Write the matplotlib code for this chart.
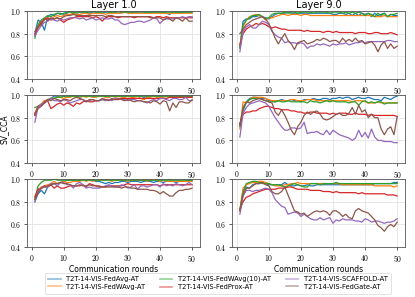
import numpy as np
import matplotlib
matplotlib.use('Agg')
import matplotlib.pyplot as plt
from matplotlib.ticker import FuncFormatter

plt.rcParams['mathtext.fontset'] = 'cm'
plt.rcParams['font.family'] = 'DejaVu Sans'

rounds = list(range(1, 51))
methods = ['T2T-14-VIS-FedAvg-AT', 'T2T-14-VIS-FedWAvg-AT', 'T2T-14-VIS-FedWAvg(10)-AT',
           'T2T-14-VIS-FedProx-AT', 'T2T-14-VIS-SCAFFOLD-AT', 'T2T-14-VIS-FedGate-AT']
colors = ['#1f77b4', '#ff7f0e', '#2ca02c', '#d62728', '#9467bd', '#8c564b']
layers = ['Layer 1.0', 'Layer 9.0']

# ---- row 1, layer 1.0 ----
r1_l1_fedavg = [0.80, 0.92, 0.90, 0.83, 0.95, 0.97, 0.96, 0.98, 0.98, 0.97, 0.98, 1.00, 0.99, 0.98, 0.99, 0.99, 0.99, 0.98, 0.99, 0.99,
                0.99, 0.98, 0.99, 0.99, 0.99, 0.99, 0.98, 0.99, 0.99, 0.99, 0.98, 0.99, 0.99, 0.99, 0.99, 0.98, 0.99, 0.99, 0.99, 0.99,
                0.99, 0.98, 0.97, 0.99, 0.99, 0.98, 0.99, 0.99, 0.99, 0.99]
r1_l1_fedwavg = [0.78, 0.85, 0.90, 0.92, 0.94, 0.93, 0.95, 0.96, 0.95, 0.96, 0.97, 0.97, 0.98, 0.97, 0.97, 0.98, 0.98, 0.97, 0.98, 0.98,
                 0.98, 0.98, 0.97, 0.98, 0.98, 0.98, 0.98, 0.98, 0.99, 0.98, 0.98, 0.98, 0.98, 0.98, 0.98, 0.98, 0.98, 0.98, 0.98, 0.98,
                 0.98, 0.98, 0.98, 0.98, 0.98, 0.98, 0.98, 0.98, 0.98, 0.98]
r1_l1_fedwavg10 = [0.76, 0.88, 0.92, 0.94, 0.96, 0.95, 0.97, 0.98, 0.97, 0.98, 0.99, 0.99, 0.98, 0.99, 0.99, 0.99, 0.99, 0.99, 1.00, 0.99,
                   0.99, 0.99, 1.00, 0.99, 0.99, 0.99, 1.00, 0.99, 0.99, 0.99, 0.99, 0.99, 0.99, 1.00, 0.99, 0.99, 0.99, 0.99, 0.99, 0.99,
                   0.99, 0.99, 0.99, 0.99, 0.99, 0.99, 0.99, 0.99, 0.99, 0.99]
r1_l1_fedprox = [0.79, 0.86, 0.90, 0.93, 0.94, 0.92, 0.93, 0.94, 0.92, 0.90, 0.92, 0.93, 0.94, 0.95, 0.95, 0.95, 0.95, 0.95, 0.94, 0.95,
                 0.94, 0.91, 0.94, 0.95, 0.95, 0.95, 0.94, 0.95, 0.95, 0.95, 0.95, 0.94, 0.95, 0.95, 0.95, 0.95, 0.95, 0.94, 0.95, 0.95,
                 0.94, 0.95, 0.94, 0.94, 0.94, 0.94, 0.94, 0.94, 0.94, 0.94]
r1_l1_scaffold = [0.78, 0.83, 0.87, 0.90, 0.91, 0.93, 0.92, 0.91, 0.93, 0.92, 0.93, 0.94, 0.94, 0.94, 0.93, 0.94, 0.92, 0.93, 0.94, 0.92,
                  0.93, 0.94, 0.93, 0.93, 0.94, 0.92, 0.92, 0.89, 0.88, 0.89, 0.90, 0.90, 0.91, 0.91, 0.90, 0.91, 0.92, 0.94, 0.93, 0.89,
                  0.92, 0.93, 0.93, 0.93, 0.94, 0.94, 0.95, 0.94, 0.95, 0.95]
r1_l1_fedgate = [0.82, 0.86, 0.88, 0.93, 0.92, 0.94, 0.93, 0.94, 0.93, 0.95, 0.96, 0.96, 0.97, 0.96, 0.96, 0.96, 0.96, 0.96, 0.96, 0.96,
                 0.96, 0.96, 0.95, 0.96, 0.96, 0.95, 0.95, 0.95, 0.95, 0.95, 0.95, 0.95, 0.95, 0.95, 0.95, 0.95, 0.94, 0.94, 0.94, 0.94,
                 0.92, 0.94, 0.93, 0.91, 0.94, 0.93, 0.91, 0.94, 0.91, 0.91]

# ---- row 1, layer 9.0 ----
r1_l9_fedavg = [0.68, 0.91, 0.93, 0.93, 0.95, 0.95, 0.96, 0.95, 0.94, 0.93, 0.95, 0.97, 0.98, 0.98, 0.98, 0.99, 0.98, 0.98, 0.98, 0.98,
                0.98, 0.98, 0.98, 0.98, 0.98, 0.98, 0.98, 0.98, 0.98, 0.97, 0.97, 0.98, 0.98, 0.97, 0.98, 0.96, 0.98, 0.96, 0.98, 0.97,
                0.98, 0.95, 0.98, 0.96, 0.97, 0.98, 0.95, 0.97, 0.96, 0.96]
r1_l9_fedwavg = [0.70, 0.86, 0.92, 0.95, 0.96, 0.97, 0.96, 0.95, 0.92, 0.94, 0.94, 0.95, 0.96, 0.97, 0.97, 0.96, 0.97, 0.97, 0.97, 0.96,
                 0.97, 0.97, 0.96, 0.96, 0.96, 0.96, 0.96, 0.96, 0.96, 0.96, 0.96, 0.96, 0.96, 0.96, 0.96, 0.96, 0.96, 0.96, 0.96, 0.96,
                 0.96, 0.96, 0.95, 0.95, 0.95, 0.96, 0.95, 0.95, 0.95, 0.95]
r1_l9_fedwavg10 = [0.67, 0.88, 0.92, 0.94, 0.96, 0.96, 0.97, 0.95, 0.93, 0.94, 0.97, 0.98, 0.98, 0.98, 0.99, 0.98, 0.99, 0.99, 0.98, 0.99,
                   0.99, 0.99, 0.99, 0.98, 0.99, 0.99, 0.99, 0.99, 0.98, 0.99, 0.99, 0.99, 0.98, 0.99, 0.98, 0.99, 0.98, 0.99, 0.98, 0.96,
                   0.98, 0.97, 0.95, 0.98, 0.96, 0.98, 0.95, 0.97, 0.97, 0.98]
r1_l9_fedprox = [0.70, 0.80, 0.84, 0.86, 0.87, 0.89, 0.88, 0.89, 0.88, 0.86, 0.85, 0.86, 0.85, 0.84, 0.84, 0.83, 0.83, 0.83, 0.83, 0.83,
                 0.82, 0.83, 0.82, 0.82, 0.82, 0.82, 0.81, 0.82, 0.82, 0.81, 0.82, 0.81, 0.81, 0.81, 0.81, 0.81, 0.80, 0.81, 0.81, 0.81,
                 0.80, 0.80, 0.81, 0.81, 0.80, 0.80, 0.80, 0.81, 0.80, 0.79]
r1_l9_scaffold = [0.64, 0.82, 0.86, 0.88, 0.85, 0.85, 0.88, 0.91, 0.90, 0.88, 0.82, 0.79, 0.77, 0.76, 0.72, 0.73, 0.72, 0.72, 0.71, 0.72,
                  0.71, 0.67, 0.69, 0.69, 0.71, 0.70, 0.71, 0.70, 0.69, 0.71, 0.70, 0.71, 0.71, 0.72, 0.70, 0.71, 0.72, 0.72, 0.73, 0.72,
                  0.73, 0.73, 0.73, 0.73, 0.73, 0.73, 0.74, 0.74, 0.73, 0.73]
r1_l9_fedgate = [0.80, 0.84, 0.88, 0.90, 0.92, 0.93, 0.94, 0.95, 0.93, 0.89, 0.83, 0.76, 0.71, 0.76, 0.80, 0.74, 0.71, 0.66, 0.72, 0.73,
                 0.74, 0.71, 0.72, 0.73, 0.75, 0.74, 0.76, 0.75, 0.73, 0.74, 0.74, 0.72, 0.76, 0.73, 0.75, 0.73, 0.76, 0.73, 0.74, 0.71,
                 0.72, 0.73, 0.70, 0.64, 0.70, 0.73, 0.67, 0.71, 0.67, 0.69]

# ---- row 2, layer 1.0 ----
r2_l1_fedavg = [0.82, 0.90, 0.92, 0.94, 0.96, 0.97, 0.99, 0.99, 0.98, 0.99, 0.98, 0.99, 0.99, 0.99, 0.98, 0.99, 0.99, 0.99, 0.99, 0.99,
                0.99, 0.99, 0.99, 0.98, 0.99, 0.99, 0.99, 0.99, 0.99, 0.99, 0.99, 0.99, 0.99, 0.99, 0.98, 0.99, 0.99, 0.99, 0.99, 0.99,
                0.99, 0.99, 0.99, 0.99, 0.99, 0.99, 0.99, 0.99, 0.99, 0.99]
r2_l1_fedwavg = [0.84, 0.90, 0.92, 0.95, 0.96, 0.97, 0.97, 0.98, 0.98, 0.97, 0.98, 0.98, 0.99, 0.98, 0.98, 0.99, 0.98, 0.99, 0.98, 0.98,
                 0.99, 0.99, 0.98, 0.98, 0.99, 0.98, 0.99, 0.98, 0.98, 0.99, 0.98, 0.98, 0.99, 0.97, 0.96, 0.98, 0.98, 0.99, 0.98, 0.98,
                 0.98, 0.99, 0.98, 0.98, 0.98, 0.98, 0.98, 0.98, 0.98, 0.98]
r2_l1_fedwavg10 = [0.89, 0.90, 0.91, 0.93, 0.95, 0.97, 0.97, 0.98, 0.98, 0.99, 0.99, 0.99, 0.99, 0.99, 0.99, 0.99, 0.99, 0.99, 0.99, 0.99,
                   0.99, 0.99, 0.99, 0.99, 0.99, 0.99, 0.99, 0.99, 0.99, 0.99, 0.99, 0.99, 0.99, 0.99, 0.99, 0.99, 0.99, 0.99, 0.99, 0.99,
                   0.99, 0.99, 0.99, 0.99, 0.99, 0.99, 0.99, 0.99, 0.99, 0.99]
r2_l1_fedprox = [0.82, 0.90, 0.91, 0.94, 0.95, 0.88, 0.90, 0.92, 0.93, 0.91, 0.93, 0.92, 0.90, 0.93, 0.92, 0.94, 0.95, 0.94, 0.94, 0.95,
                 0.95, 0.96, 0.96, 0.96, 0.96, 0.96, 0.96, 0.97, 0.97, 0.97, 0.97, 0.97, 0.97, 0.97, 0.97, 0.97, 0.97, 0.97, 0.97, 0.97,
                 0.97, 0.97, 0.98, 0.98, 0.98, 0.98, 0.98, 0.98, 0.98, 0.98]
r2_l1_scaffold = [0.76, 0.89, 0.92, 0.93, 0.95, 0.97, 0.95, 0.95, 0.94, 0.96, 0.95, 0.93, 0.94, 0.95, 0.96, 0.96, 0.94, 0.95, 0.96, 0.95,
                  0.95, 0.96, 0.95, 0.96, 0.95, 0.97, 0.97, 0.96, 0.96, 0.95, 0.96, 0.96, 0.95, 0.95, 0.94, 0.93, 0.95, 0.96, 0.95, 0.97,
                  0.97, 0.96, 0.95, 0.97, 0.97, 0.96, 0.96, 0.98, 0.95, 0.95]
r2_l1_fedgate = [0.84, 0.88, 0.90, 0.93, 0.96, 0.95, 0.97, 0.96, 0.95, 0.96, 0.96, 0.95, 0.97, 0.98, 0.97, 0.96, 0.94, 0.96, 0.96, 0.95,
                 0.95, 0.97, 0.96, 0.95, 0.97, 0.96, 0.97, 0.96, 0.95, 0.96, 0.95, 0.94, 0.95, 0.95, 0.94, 0.94, 0.93, 0.95, 0.94, 0.92,
                 0.95, 0.94, 0.86, 0.93, 0.89, 0.94, 0.94, 0.93, 0.93, 0.96]

# ---- row 2, layer 9.0 ----
r2_l9_fedavg = [0.74, 0.86, 0.94, 0.97, 0.98, 0.98, 0.97, 0.97, 0.97, 0.95, 0.95, 0.94, 0.95, 0.96, 0.95, 0.95, 0.96, 0.95, 0.95, 0.94,
                0.96, 0.96, 0.96, 0.97, 0.96, 0.96, 0.97, 0.97, 0.96, 0.97, 0.97, 0.98, 0.97, 0.98, 0.98, 0.96, 0.97, 0.98, 0.97, 0.97,
                0.98, 0.97, 0.96, 0.96, 0.95, 0.98, 0.97, 0.96, 0.98, 0.99]
r2_l9_fedwavg = [0.70, 0.94, 0.93, 0.96, 0.98, 0.98, 0.98, 0.98, 0.97, 0.96, 0.95, 0.95, 0.95, 0.95, 0.95, 0.95, 0.96, 0.96, 0.95, 0.95,
                 0.95, 0.96, 0.96, 0.96, 0.95, 0.95, 0.95, 0.95, 0.95, 0.95, 0.95, 0.95, 0.95, 0.95, 0.95, 0.94, 0.95, 0.95, 0.95, 0.94,
                 0.93, 0.93, 0.93, 0.94, 0.93, 0.93, 0.93, 0.93, 0.93, 0.93]
r2_l9_fedwavg10 = [0.72, 0.88, 0.93, 0.96, 0.97, 0.97, 0.97, 0.96, 0.95, 0.94, 0.94, 0.94, 0.95, 0.94, 0.94, 0.95, 0.94, 0.94, 0.94, 0.94,
                   0.94, 0.93, 0.95, 0.94, 0.94, 0.93, 0.94, 0.95, 0.94, 0.95, 0.94, 0.94, 0.94, 0.94, 0.93, 0.94, 0.94, 0.91, 0.94, 0.95,
                   0.93, 0.94, 0.93, 0.94, 0.94, 0.92, 0.93, 0.93, 0.93, 0.93]
r2_l9_fedprox = [0.75, 0.83, 0.85, 0.85, 0.86, 0.86, 0.88, 0.89, 0.90, 0.90, 0.89, 0.88, 0.88, 0.87, 0.87, 0.87, 0.86, 0.86, 0.85, 0.85,
                 0.84, 0.84, 0.85, 0.85, 0.84, 0.84, 0.84, 0.84, 0.83, 0.84, 0.83, 0.84, 0.84, 0.84, 0.83, 0.83, 0.84, 0.83, 0.83, 0.83,
                 0.82, 0.83, 0.82, 0.82, 0.82, 0.82, 0.82, 0.82, 0.82, 0.81]
r2_l9_scaffold = [0.63, 0.84, 0.89, 0.92, 0.93, 0.94, 0.95, 0.94, 0.93, 0.90, 0.85, 0.80, 0.76, 0.72, 0.69, 0.69, 0.71, 0.71, 0.70, 0.71,
                  0.76, 0.66, 0.67, 0.67, 0.68, 0.66, 0.65, 0.69, 0.65, 0.69, 0.67, 0.65, 0.64, 0.63, 0.62, 0.60, 0.62, 0.69, 0.63, 0.67,
                  0.62, 0.70, 0.63, 0.60, 0.60, 0.59, 0.59, 0.59, 0.58, 0.58]
r2_l9_fedgate = [0.73, 0.89, 0.94, 0.93, 0.95, 0.96, 0.97, 0.96, 0.95, 0.94, 0.93, 0.85, 0.82, 0.87, 0.82, 0.76, 0.69, 0.65, 0.72, 0.76,
                 0.82, 0.85, 0.83, 0.85, 0.86, 0.83, 0.79, 0.78, 0.79, 0.81, 0.83, 0.84, 0.82, 0.82, 0.84, 0.89, 0.83, 0.91, 0.85, 0.87,
                 0.80, 0.83, 0.80, 0.80, 0.70, 0.65, 0.70, 0.72, 0.65, 0.81]

# ---- row 3, layer 1.0 ----
r3_l1_fedavg = [0.80, 0.87, 0.90, 0.87, 0.93, 0.95, 0.96, 0.96, 0.97, 0.98, 0.99, 0.99, 0.99, 0.98, 0.99, 0.99, 0.99, 0.99, 0.99, 0.98,
                0.98, 0.97, 0.96, 0.97, 0.96, 0.97, 0.97, 0.98, 0.98, 0.97, 0.98, 0.98, 0.98, 0.97, 0.98, 0.98, 0.98, 0.97, 0.98, 0.98,
                0.97, 0.98, 0.98, 0.98, 0.97, 0.98, 0.98, 0.98, 0.99, 0.99]
r3_l1_fedwavg = [0.85, 0.90, 0.93, 0.94, 0.95, 0.96, 0.98, 0.96, 0.97, 0.98, 0.97, 0.97, 0.98, 0.98, 0.98, 0.99, 0.98, 0.99, 0.98, 0.99,
                 0.99, 0.99, 0.99, 0.99, 0.98, 0.99, 0.99, 0.99, 0.99, 0.98, 0.99, 0.99, 0.99, 0.99, 0.99, 0.98, 0.99, 0.99, 0.99, 0.98,
                 0.99, 0.98, 0.98, 0.98, 0.98, 0.98, 0.98, 0.98, 0.98, 0.98]
r3_l1_fedwavg10 = [0.82, 0.94, 0.97, 0.99, 0.99, 0.99, 1.00, 0.99, 0.99, 0.99, 0.99, 0.99, 0.99, 0.99, 0.99, 0.99, 0.99, 0.99, 0.99, 0.99,
                   0.99, 0.99, 0.99, 0.99, 0.99, 0.99, 0.99, 0.99, 0.99, 0.99, 0.99, 0.99, 0.99, 0.99, 0.99, 0.99, 0.99, 0.99, 0.99, 0.99,
                   0.99, 0.99, 0.99, 0.99, 0.99, 0.99, 0.99, 0.99, 0.99, 0.99]
r3_l1_fedprox = [0.84, 0.91, 0.92, 0.94, 0.93, 0.95, 0.92, 0.94, 0.92, 0.92, 0.93, 0.94, 0.94, 0.94, 0.94, 0.95, 0.93, 0.96, 0.95, 0.94,
                 0.94, 0.93, 0.93, 0.94, 0.94, 0.94, 0.94, 0.94, 0.95, 0.96, 0.95, 0.95, 0.95, 0.95, 0.95, 0.95, 0.95, 0.95, 0.95, 0.94,
                 0.95, 0.95, 0.95, 0.95, 0.95, 0.95, 0.95, 0.95, 0.95, 0.95]
r3_l1_scaffold = [0.80, 0.89, 0.92, 0.93, 0.93, 0.96, 0.96, 0.94, 0.97, 0.97, 0.95, 0.95, 0.92, 0.96, 0.97, 0.95, 0.92, 0.93, 0.92, 0.92,
                  0.92, 0.93, 0.94, 0.95, 0.94, 0.93, 0.93, 0.95, 0.94, 0.92, 0.93, 0.95, 0.91, 0.94, 0.94, 0.93, 0.94, 0.95, 0.95, 0.93,
                  0.96, 0.94, 0.95, 0.94, 0.96, 0.95, 0.94, 0.95, 0.97, 0.95]
r3_l1_fedgate = [0.82, 0.88, 0.92, 0.93, 0.94, 0.95, 0.96, 0.96, 0.97, 0.96, 0.96, 0.95, 0.94, 0.94, 0.95, 0.94, 0.94, 0.95, 0.94, 0.94,
                 0.93, 0.93, 0.93, 0.93, 0.93, 0.93, 0.93, 0.92, 0.93, 0.93, 0.92, 0.92, 0.91, 0.91, 0.91, 0.91, 0.90, 0.90, 0.89, 0.87,
                 0.89, 0.87, 0.85, 0.85, 0.88, 0.90, 0.90, 0.91, 0.91, 0.92]

# ---- row 3, layer 9.0 ----
r3_l9_fedavg = [0.72, 0.90, 0.93, 0.92, 0.95, 0.96, 0.96, 0.97, 0.96, 0.95, 0.95, 0.95, 0.95, 0.95, 0.97, 0.95, 0.94, 0.94, 0.95, 0.94,
                0.94, 0.95, 0.94, 0.94, 0.95, 0.95, 0.95, 0.95, 0.95, 0.95, 0.95, 0.95, 0.95, 0.95, 0.95, 0.95, 0.95, 0.95, 0.95, 0.95,
                0.95, 0.95, 0.96, 0.96, 0.96, 0.96, 0.96, 0.96, 0.97, 0.97]
r3_l9_fedwavg = [0.73, 0.92, 0.95, 0.96, 0.97, 0.97, 0.98, 0.98, 0.97, 0.96, 0.95, 0.94, 0.94, 0.94, 0.95, 0.95, 0.96, 0.96, 0.97, 0.96,
                 0.96, 0.96, 0.96, 0.96, 0.96, 0.96, 0.96, 0.96, 0.96, 0.96, 0.96, 0.96, 0.95, 0.95, 0.95, 0.95, 0.95, 0.95, 0.95, 0.95,
                 0.95, 0.95, 0.94, 0.94, 0.94, 0.94, 0.94, 0.94, 0.93, 0.94]
r3_l9_fedwavg10 = [0.73, 0.88, 0.96, 0.97, 0.98, 0.98, 0.97, 0.96, 0.96, 0.96, 0.95, 0.95, 0.95, 0.94, 0.93, 0.94, 0.95, 0.96, 0.95, 0.94,
                   0.93, 0.93, 0.96, 0.96, 0.96, 0.95, 0.96, 0.96, 0.96, 0.96, 0.97, 0.96, 0.96, 0.96, 0.96, 0.96, 0.96, 0.96, 0.96, 0.96,
                   0.96, 0.96, 0.96, 0.96, 0.96, 0.96, 0.96, 0.96, 0.96, 0.96]
r3_l9_fedprox = [0.73, 0.80, 0.84, 0.85, 0.87, 0.88, 0.89, 0.90, 0.91, 0.91, 0.91, 0.91, 0.92, 0.92, 0.92, 0.93, 0.93, 0.92, 0.91, 0.91,
                 0.91, 0.91, 0.90, 0.90, 0.90, 0.90, 0.89, 0.89, 0.89, 0.88, 0.89, 0.88, 0.88, 0.88, 0.88, 0.88, 0.88, 0.87, 0.88, 0.87,
                 0.87, 0.87, 0.87, 0.87, 0.87, 0.87, 0.86, 0.86, 0.86, 0.85]
r3_l9_scaffold = [0.69, 0.85, 0.90, 0.90, 0.89, 0.90, 0.90, 0.91, 0.92, 0.91, 0.88, 0.82, 0.79, 0.76, 0.75, 0.69, 0.70, 0.71, 0.70, 0.67,
                  0.69, 0.67, 0.65, 0.64, 0.64, 0.66, 0.64, 0.65, 0.66, 0.61, 0.64, 0.63, 0.65, 0.64, 0.64, 0.64, 0.63, 0.63, 0.62, 0.65,
                  0.64, 0.62, 0.63, 0.63, 0.62, 0.61, 0.62, 0.62, 0.63, 0.65]
r3_l9_fedgate = [0.72, 0.86, 0.92, 0.92, 0.94, 0.96, 0.96, 0.97, 0.95, 0.94, 0.89, 0.87, 0.87, 0.89, 0.93, 0.86, 0.79, 0.72, 0.71, 0.69,
                 0.70, 0.67, 0.69, 0.71, 0.72, 0.71, 0.72, 0.71, 0.68, 0.72, 0.72, 0.70, 0.67, 0.69, 0.66, 0.65, 0.72, 0.74, 0.72, 0.71,
                 0.70, 0.67, 0.64, 0.59, 0.57, 0.54, 0.58, 0.60, 0.58, 0.62]

panels = [
    [[r1_l1_fedavg, r1_l1_fedwavg, r1_l1_fedwavg10, r1_l1_fedprox, r1_l1_scaffold, r1_l1_fedgate],
     [r1_l9_fedavg, r1_l9_fedwavg, r1_l9_fedwavg10, r1_l9_fedprox, r1_l9_scaffold, r1_l9_fedgate]],
    [[r2_l1_fedavg, r2_l1_fedwavg, r2_l1_fedwavg10, r2_l1_fedprox, r2_l1_scaffold, r2_l1_fedgate],
     [r2_l9_fedavg, r2_l9_fedwavg, r2_l9_fedwavg10, r2_l9_fedprox, r2_l9_scaffold, r2_l9_fedgate]],
    [[r3_l1_fedavg, r3_l1_fedwavg, r3_l1_fedwavg10, r3_l1_fedprox, r3_l1_scaffold, r3_l1_fedgate],
     [r3_l9_fedavg, r3_l9_fedwavg, r3_l9_fedwavg10, r3_l9_fedprox, r3_l9_scaffold, r3_l9_fedgate]],
]

fig, axes = plt.subplots(3, 2, figsize=(4.15, 2.97), dpi=100)
fig.subplots_adjust(left=0.065, right=0.976, top=0.963, bottom=0.168, wspace=0.185, hspace=0.235)

for i in range(3):
    for j in range(2):
        ax = axes[i, j]
        for k, series in enumerate(panels[i][j]):
            ax.plot(rounds, series, color=colors[k], lw=0.9, label=methods[k])
        ax.set_ylim(0.4, 1.0)
        ax.set_yticks([0.4, 0.6, 0.8, 1.0])
        ax.set_xticks([0, 10, 20, 30, 40, 50])
        ax.yaxis.set_major_formatter(FuncFormatter(lambda v, p: r'$%.1f$' % v))
        ax.xaxis.set_major_formatter(FuncFormatter(lambda v, p: r'$%d$' % v))
        ax.tick_params(labelsize=5.5, length=2.5, width=0.6, pad=1.5, color='#444444')
        ax.grid(True, color='#e3e3e3', lw=0.6)
        ax.set_axisbelow(True)
        for s in ax.spines.values():
            s.set_color('#555555')
            s.set_linewidth(0.6)
        if i == 0:
            ax.set_title(layers[j], fontsize=7, pad=2)
        if i == 2:
            ax.set_xlabel('Communication rounds', fontsize=5.5, labelpad=1)

axes[1, 0].set_ylabel('SV_CCA', fontsize=5.5, labelpad=1)

handles, labels = axes[0, 0].get_legend_handles_labels()
leg = fig.legend(handles, labels, loc='lower center', bbox_to_anchor=(0.525, 0.0), ncol=3,
                 fontsize=4.9, frameon=True, handlelength=1.8, columnspacing=2.2, borderpad=0.5,
                 labelspacing=0.25, handletextpad=0.8)
leg.get_frame().set_linewidth(0.5)
for h in leg.get_lines():
    h.set_alpha(0.5)
    h.set_linewidth(1.2)

fig.savefig('out.png', dpi=100)
